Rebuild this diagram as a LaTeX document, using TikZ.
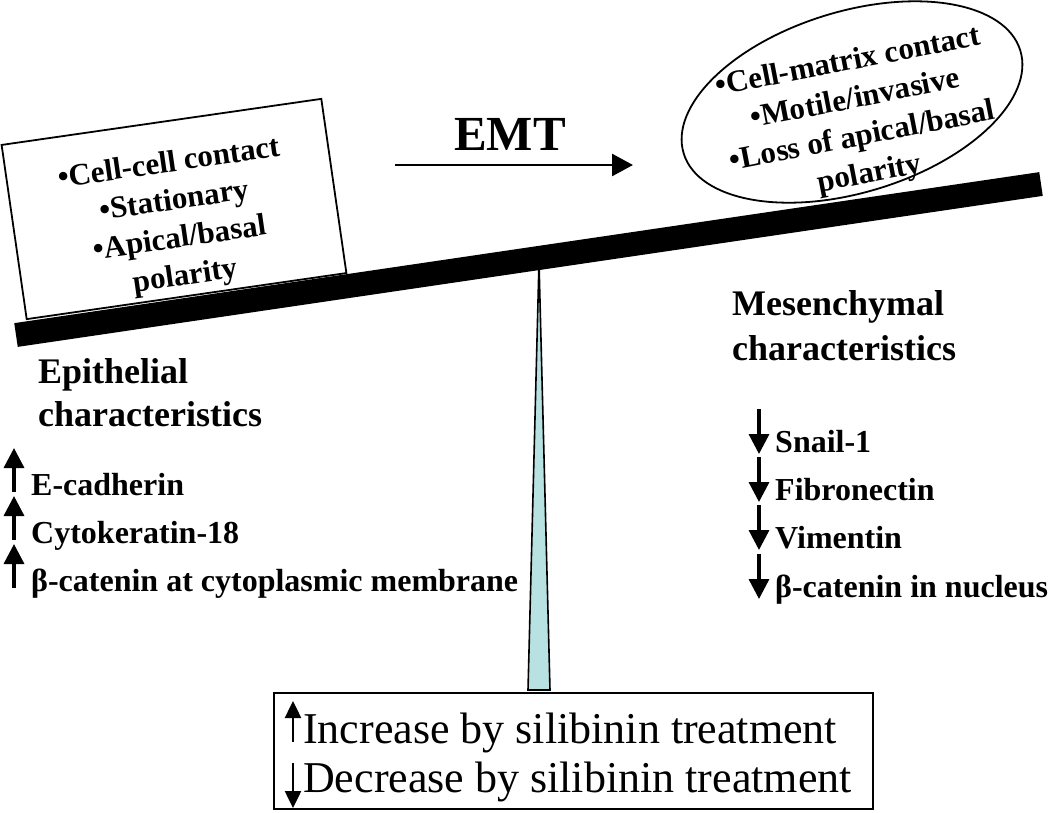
\documentclass[tikz,border=0pt]{standalone}
\usepackage{fontspec}
\setmainfont{Liberation Serif}
\usepackage{tikz}
\usetikzlibrary{shapes.geometric, arrows.meta, positioning}
\definecolor{pivotfill}{RGB}{184,225,226}

\begin{document}
\begin{tikzpicture}[
    x=1pt, y=1pt,
    charbox/.style={rectangle, draw=black, line width=1.8pt, minimum width=323pt, minimum height=176pt, inner sep=0pt},
    oval/.style={ellipse, draw=black, line width=1.8pt, minimum width=352pt, minimum height=181pt, inner sep=0pt},
    boxtext/.style={align=center, inner sep=0pt, font=\bfseries\fontsize{31}{38}\selectfont},
    beam/.style={line width=24pt},
    fulcrum/.style={draw=black, line width=1.6pt, fill=pivotfill},
    arrow/.style={-{Triangle[length=21pt, width=22pt]}, line width=2.7pt},
    heading/.style={anchor=base west, inner sep=0pt, font=\bfseries\fontsize{36}{43}\selectfont},
    entry/.style={anchor=base west, inner sep=0pt, font=\bfseries\fontsize{32}{38}\selectfont},
    trend/.style={-{Triangle[length=20pt, width=20pt]}, line width=3.4pt},
    legend/.style={rectangle, draw=black, line width=2pt, minimum width=599pt, minimum height=116pt},
    legtext/.style={anchor=base west, inner sep=0pt, font=\fontsize{44}{50}\selectfont},
    legtrend/.style={-{Triangle[length=17pt, width=16pt]}, line width=2.5pt}
]
    \useasboundingbox (0,0) rectangle (1050,-812);

    \coordinate (pivot) at (539,-262);
    \draw[fulcrum] (pivot) -- (550,-690) -- (528,-690) -- cycle;

    \coordinate (barL) at (16,-335);
    \coordinate (barR) at (1041,-184);
    \draw[beam] (barL) -- (barR);

    \node[charbox, rotate=8.2] (epibox) at (174,-209) {};
    \node[boxtext, rotate=8.2] (epitext) at (177,-221) {\textbullet Cell-cell contact\\ \textbullet Stationary\\ \textbullet Apical/basal\\ polarity};

    \node[oval, rotate=17] (mesoval) at (852,-102) {};
    \node[boxtext, rotate=11] (mestext) at (859,-119) {\textbullet Cell-matrix contact\\ \textbullet Motile/invasive\\ \textbullet Loss of apical/basal\\ polarity};

    \node[anchor=base, inner sep=0pt, font=\bfseries\fontsize{49}{58}\selectfont] (emt) at (510,-150) {EMT};
    \coordinate (emtstart) at (395,-165);
    \coordinate (emtend) at (633,-165);
    \draw[arrow] (emtstart) -- (emtend);

    \node[heading] (epihead) at (38,-383) {Epithelial};
    \node[heading] (epihead2) at (38,-426) {characteristics};
    \node[entry] (ecad) at (31,-495) {E-cadherin};
    \node[entry] (ck18) at (31,-543) {Cytokeratin-18};
    \node[entry] (bmem) at (31,-591) {β-catenin at cytoplasmic membrane};

    \draw[trend] ([xshift=-17pt, yshift=3pt]ecad.base west) -- ++(0,44);
    \draw[trend] ([xshift=-17pt, yshift=3pt]ck18.base west) -- ++(0,44);
    \draw[trend] ([xshift=-17pt, yshift=3pt]bmem.base west) -- ++(0,44);

    \node[heading] (meshead) at (732,-315) {Mesenchymal};
    \node[heading] (meshead2) at (732,-360) {characteristics};
    \node[entry] (snail) at (775,-452) {Snail-1};
    \node[entry] (fibro) at (775,-500) {Fibronectin};
    \node[entry] (vim) at (775,-548) {Vimentin};
    \node[entry] (bnuc) at (775,-597) {β-catenin in nucleus};

    \draw[trend] ([xshift=-16pt, yshift=43pt]snail.base west) -- ++(0,-45);
    \draw[trend] ([xshift=-16pt, yshift=43pt]fibro.base west) -- ++(0,-45);
    \draw[trend] ([xshift=-16pt, yshift=43pt]vim.base west) -- ++(0,-45);
    \draw[trend] ([xshift=-16pt, yshift=43pt]bnuc.base west) -- ++(0,-45);

    \node[legend] (legend) at (573.5,-751) {};
    \node[legtext] (incr) at (303,-743) {Increase by silibinin treatment};
    \node[legtext] (decr) at (303,-792) {Decrease by silibinin treatment};
    \draw[legtrend] ([xshift=-10pt, yshift=1pt]incr.base west) -- ++(0,41);
    \draw[legtrend] ([xshift=-10pt, yshift=29pt]decr.base west) -- ++(0,-45);
\end{tikzpicture}
\end{document}
